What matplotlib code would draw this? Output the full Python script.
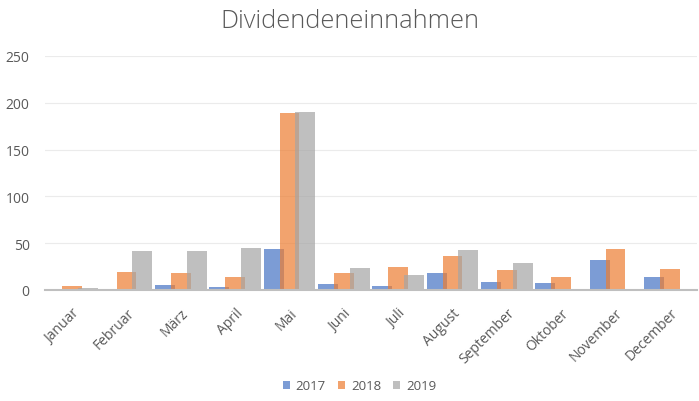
import numpy as np
import matplotlib.pyplot as plt

months = ["Januar", "Februar", "März", "April", "Mai", "Juni", "Juli",
          "August", "September", "Oktober", "November", "December"]
years = ["2017", "2018", "2019"]
v2017 = [0, 0, 5, 3, 44, 6, 4, 18, 9, 7.5, 32, 14]
v2018 = [4, 19, 18, 14, 189, 18, 25, 36, 21, 14, 44, 22.5]
v2019 = [2, 42, 42, 45, 190, 24, 16, 43, 29, 0, 0, 0]
yticks = [0, 50, 100, 150, 200, 250]

colors = ["#4472C4", "#ED7D31", "#A5A5A5"]
txt = "#595959"
plt.rcParams['font.family'] = ['Open Sans', 'DejaVu Sans']

fig = plt.figure(figsize=(6.99, 4.02), dpi=100)
ax = fig.add_axes([45 / 699, 1 - 291 / 402, 652 / 699, 234 / 402])

x = np.arange(len(months))
width = 0.368
step = 0.29
for i, (vals, col, lab) in enumerate(zip([v2017, v2018, v2019], colors, years)):
    ax.bar(x + (i - 1) * step, vals, width, color=col, alpha=0.7, label=lab,
           linewidth=0, zorder=2 + i)

ax.set_xlim(-0.5, len(months) - 0.5)
ax.set_ylim(0, 250)
ax.set_yticks(yticks)
ax.set_yticklabels([str(t) for t in yticks], color=txt, fontsize=10)
ax.set_xticks(x)
ax.set_xticklabels(months, rotation=45, ha="right", rotation_mode="anchor",
                   color=txt, fontsize=10)
ax.tick_params(axis="y", length=0, pad=11)
ax.tick_params(axis="x", length=0, pad=11)
ax.grid(axis="y", color="#EBEBEB", linewidth=0.8, zorder=0)
for s in ["top", "right", "left"]:
    ax.spines[s].set_visible(False)
ax.spines["bottom"].set_color("#BFBFBF")
ax.spines["bottom"].set_linewidth(1.5)
ax.spines["bottom"].set_zorder(6)

fig.text(0.5, 1 - 22 / 402, "Dividendeneinnahmen", ha="center", va="center",
         color=txt, fontsize=18.3, fontweight="light")

fig.legend(loc="center", bbox_to_anchor=(0.5 + 10 / 699, 1 - 387 / 402), ncol=3,
           frameon=False, fontsize=9.5, handlelength=0.55, handleheight=0.55,
           columnspacing=0.9, handletextpad=0.45, labelcolor=txt)

fig.savefig("out.png", dpi=100)
